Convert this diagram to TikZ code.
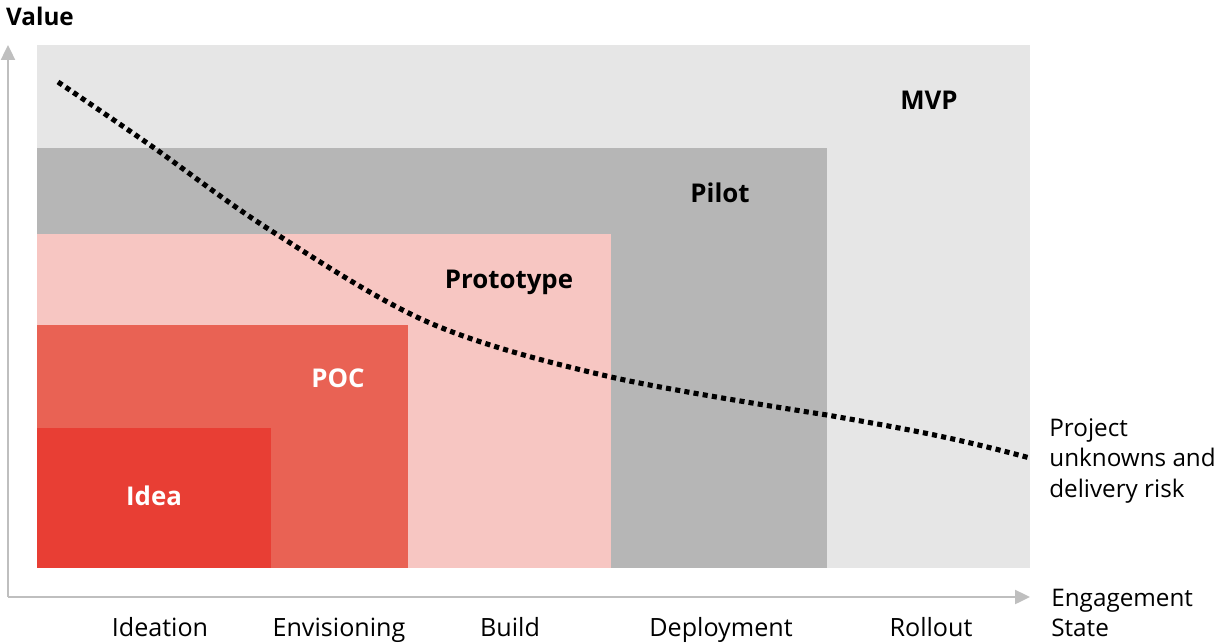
\documentclass[tikz,border=0pt]{standalone}
\usepackage{fontspec}
\setmainfont{Open Sans}
\usepackage{tikz}
\usepackage{xcolor}
\usetikzlibrary{positioning, arrows.meta}
\definecolor{mvpgray}{RGB}{230, 230, 230}
\definecolor{pilotgray}{RGB}{182, 182, 182}
\definecolor{protopink}{RGB}{247, 198, 194}
\definecolor{pocred}{RGB}{233, 98, 84}
\definecolor{ideared}{RGB}{232, 62, 52}
\definecolor{axisgray}{RGB}{191, 191, 191}
\tikzset{
    stagelabel/.style={font=\fontsize{14.7}{16}\selectfont\bfseries, inner sep=0pt},
    whitelabel/.style={stagelabel, text=white},
    steplabel/.style={font=\fontsize{14.3}{17.5}\selectfont, inner sep=0pt, anchor=base},
    sidelabel/.style={steplabel, font=\fontsize{13.8}{17.5}\selectfont, align=left, anchor=west},
    axis/.style={draw=axisgray, line width=2pt*0.567, -{Triangle[length=8.5pt, width=8pt]}},
    risk/.style={draw=black, line width=2.9pt, dash pattern=on 2.9pt off 2.4pt}
}

\begin{document}
\begin{tikzpicture}[x=0.02cm, y=-0.02cm]
    \useasboundingbox (0,0) rectangle (1220,643);
    % nested stages
    \fill[mvpgray] (37,45) rectangle (1030,568);
    \fill[pilotgray] (37,148) rectangle (827,568);
    \fill[protopink] (37,234) rectangle (611,568);
    \fill[pocred] (37,325) rectangle (408,568);
    \fill[ideared] (37,428) rectangle (271,568);
    \node[stagelabel] (mvp) at (929,100) {MVP};
    \node[stagelabel] (pilot) at (720,193) {Pilot};
    \node[stagelabel] (proto) at (509,282) {Prototype};
    \node[whitelabel] (poc) at (338,378) {POC};
    \node[whitelabel] (idea) at (154,496) {Idea};
    % axes
    \coordinate (origin) at (8,597);
    \coordinate (ytip) at (8,45);
    \coordinate (xtip) at (1030,597);
    \draw[axis] (origin) -- (ytip);
    \draw[axis] (origin) -- (xtip);
    \node[stagelabel, font=\fontsize{13.8}{16}\selectfont\bfseries] (value) at (40,16) {Value};
    \node[sidelabel] (state) at (1051,613) {Engagement\\State};
    \node[steplabel] (ideation) at (160,636) {Ideation};
    \node[steplabel] (envision) at (339,636) {Envisioning};
    \node[steplabel] (build) at (510,636) {Build};
    \node[steplabel] (deploy) at (721,636) {Deployment};
    \node[steplabel] (rollout) at (931,636) {Rollout};
    % risk curve
    \coordinate (riskend) at (1030,458);
    \draw[risk] plot[smooth, tension=0.55] coordinates {(58,82) (150,145) (270,230) (430,323) (611,377) (827,415)} to[out=-10, in=165] (riskend);
    \node[sidelabel] (risk) at (1049,461) {Project\\unknowns and\\delivery risk};
\end{tikzpicture}
\end{document}
